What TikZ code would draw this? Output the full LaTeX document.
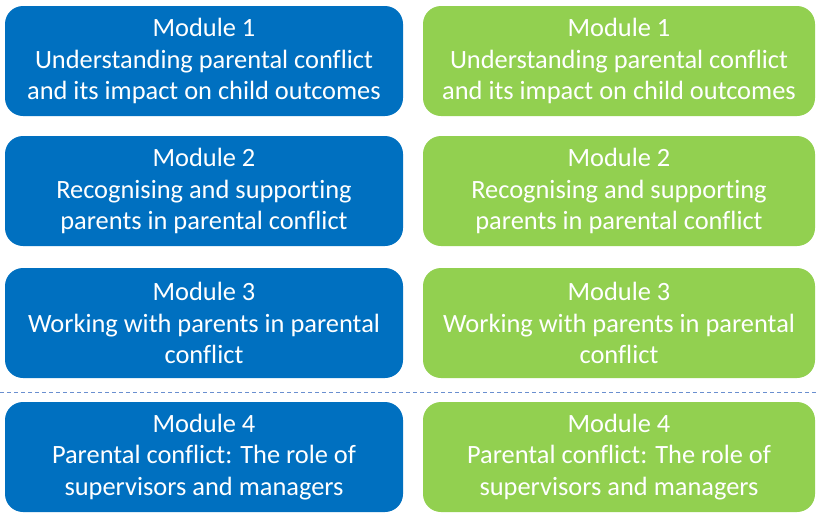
\documentclass[tikz,border=0pt]{standalone}
\usepackage{fontspec}
\setmainfont{Carlito}[Ligatures=NoCommon]
\definecolor{modblue}{HTML}{0070C0}
\definecolor{modgreen}{HTML}{92D050}
\definecolor{divline}{HTML}{6A8FD0}
\tikzset{
    module/.style={rounded corners=18pt, inner sep=0pt, minimum height=110pt,
        text=white, align=center, font=\fontsize{26.4}{31.5}\selectfont},
    bluemod/.style={module, fill=modblue, minimum width=398pt},
    greenmod/.style={module, fill=modgreen, minimum width=392pt}
}
\begin{document}
\begin{tikzpicture}[x=1pt,y=-1pt]
    \useasboundingbox (0,0) rectangle (816,512);
    %\draw[very thin,color=gray] (0,0) grid[step=50] (816,512);
    \node [bluemod] (b1) at (204,61) {Module 1\\Understanding parental conflict\\and its impact on child outcomes};
    \node [bluemod] (b2) at (204,191) {Module 2\\Recognising and supporting\\parents in parental conflict};
    \node [bluemod] (b3) at (204,323) {Module 3\\Working with parents in parental\\conflict};
    \node [bluemod] (b4) at (204,457) {Module 4\\Parental conflict: The role of\\supervisors and managers};
    \node [greenmod] (g1) at (619,61) {Module 1\\Understanding parental conflict\\and its impact on child outcomes};
    \node [greenmod] (g2) at (619,191) {Module 2\\Recognising and supporting\\parents in parental conflict};
    \node [greenmod] (g3) at (619,323) {Module 3\\Working with parents in parental\\conflict};
    \node [greenmod] (g4) at (619,457) {Module 4\\Parental conflict: The role of\\supervisors and managers};
    \coordinate (dl) at (0,392);
    \coordinate (dr) at (816,392);
    \draw [divline, dash pattern=on 4pt off 3pt, semithick] (dl) -- (dr);
\end{tikzpicture}
\end{document}
